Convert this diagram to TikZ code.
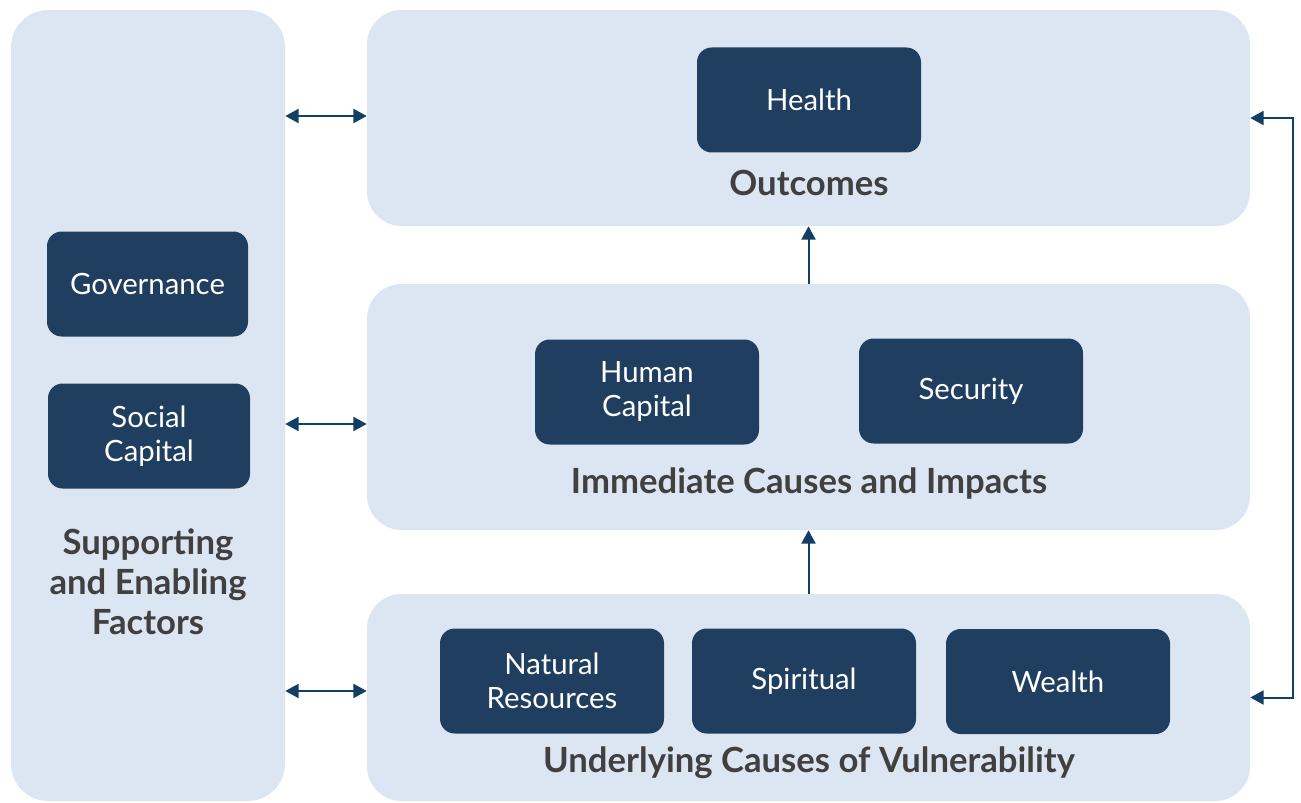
\documentclass[tikz,border=0pt]{standalone}
\usepackage{fontspec}
\setmainfont{Lato}
\usetikzlibrary{arrows.meta}
\definecolor{panelc}{HTML}{DCE6F2}
\definecolor{boxc}{HTML}{203F60}
\definecolor{titlec}{HTML}{404040}
\definecolor{arrowc}{HTML}{123F66}
\begin{document}
\begin{tikzpicture}[x=0.75pt,y=-0.75pt,
  panel/.style={fill=panelc,draw=none,rounded corners=28pt,inner sep=0pt},
  darkbox/.style={fill=boxc,draw=none,rounded corners=11pt,minimum width=168pt,minimum height=78.75pt,
    text=white,font=\fontsize{22}{25.5}\selectfont,align=center,inner sep=0pt},
  title/.style={text=titlec,font=\fontsize{26}{30}\selectfont\bfseries,align=center,inner sep=0pt},
  conn/.style={draw=arrowc,line width=1.5pt},
  dbl/.style={conn,{Triangle[length=10pt,width=10.5pt]}-{Triangle[length=10pt,width=10.5pt]}},
  up/.style={conn,-{Triangle[length=10pt,width=10.5pt]}}]
\useasboundingbox (0,0) rectangle (1301,802);
% panels
\node[panel,minimum width=205.5pt,minimum height=593.25pt] (sef) at (148,405.5) {};
\node[panel,minimum width=662.25pt,minimum height=162pt,rounded corners=26pt] (outcomes) at (808.5,118) {};
\node[panel,minimum width=662.25pt,minimum height=184.5pt,rounded corners=26pt] (immediate) at (808.5,407) {};
\node[panel,minimum width=662.25pt,minimum height=155.25pt,rounded corners=26pt] (underlying) at (808.5,697.5) {};
% titles
\node[title] (tsef) at (148,582) {Supporting\\and Enabling\\Factors};
\node[title] (tout) at (809,183) {Outcomes};
\node[title] (timm) at (809,484) {Immediate Causes and Impacts};
\node[title] (tund) at (809,763) {Underlying Causes of Vulnerability};
% boxes
\node[darkbox] (health) at (809,100) {Health};
\node[darkbox,minimum width=150.75pt] (gov) at (147.5,284) {Governance};
\node[darkbox,minimum width=151.5pt] (social) at (149,436) {Social\\Capital};
\node[darkbox] (human) at (647,392) {Human\\Capital};
\node[darkbox] (security) at (971,391) {Security};
\node[darkbox] (natural) at (552,681) {Natural\\Resources};
\node[darkbox] (spiritual) at (804,681) {Spiritual};
\node[darkbox] (wealth) at (1058,681.5) {Wealth};
% connectors
\draw[dbl] ([yshift=1.5pt]outcomes.west -| sef.east) -- ([yshift=1.5pt]outcomes.west);
\draw[dbl] ([yshift=-12.75pt]immediate.west -| sef.east) -- ([yshift=-12.75pt]immediate.west);
\draw[dbl] ([yshift=4.9pt]underlying.west -| sef.east) -- ([yshift=4.9pt]underlying.west);
\draw[up] (immediate.north) -- (outcomes.south);
\draw[up] (underlying.north) -- (immediate.south);
\draw[dbl] (outcomes.east) -- ++(32pt,0) |- (underlying.east);
\end{tikzpicture}
\end{document}
